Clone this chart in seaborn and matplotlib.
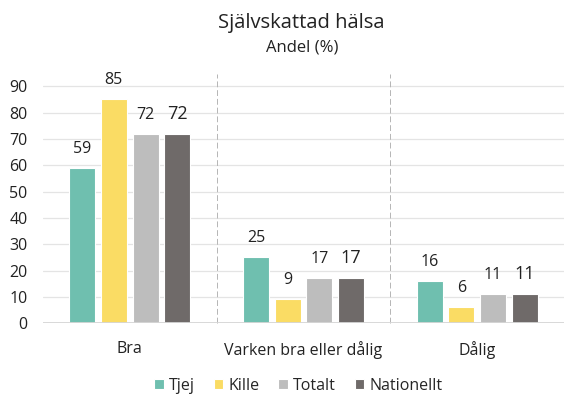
import matplotlib
matplotlib.use("Agg")
import matplotlib.pyplot as plt
import seaborn as sns
import pandas as pd

categories = ["Bra", "Varken bra eller dålig", "Dålig"]
groups = ["Tjej", "Kille", "Totalt", "Nationellt"]
tjej = [59, 25, 16]
kille = [85, 9, 6]
totalt = [72, 17, 11]
nationellt = [72, 17, 11]
yticks = [0, 10, 20, 30, 40, 50, 60, 70, 80, 90]

colors = ["#6FBFAF", "#FADC64", "#BDBDBD", "#6F6A69"]

sns.set_theme(style="white")
plt.rcParams["font.family"] = ["Open Sans", "DejaVu Sans"]

rows = []
for g, vals in zip(groups, [tjej, kille, totalt, nationellt]):
    for c, v in zip(categories, vals):
        rows.append({"Kategori": c, "Grupp": g, "Andel": v})
df = pd.DataFrame(rows)

fig = plt.figure(figsize=(5.64, 3.99), dpi=100)
ax = fig.add_axes([0.076, 0.19, 0.924, 0.607])

sns.barplot(data=df, x="Kategori", y="Andel", hue="Grupp", order=categories,
            hue_order=groups, palette=colors, saturation=1, width=0.73,
            gap=0.18, edgecolor="white", linewidth=0.8, ax=ax, legend=True,
            zorder=3)

ax.set_ylim(0, 92)
ax.set_xlim(-0.5, 2.5)
ax.set_yticks(yticks)
ax.set_yticklabels([str(t) for t in yticks], fontsize=11.5, color="#222222")
ax.tick_params(axis="y", length=0, pad=11)
ax.tick_params(axis="x", length=0, pad=13, labelsize=11.5, colors="#222222")
ax.set_xlabel("")
ax.set_ylabel("")
for y in yticks:
    ax.axhline(y, color="#E4E4E4", lw=0.9, zorder=0)
ax.axhline(0, color="#D6D6D6", lw=1.3, zorder=4)
for s in ax.spines.values():
    s.set_visible(False)

for xsep in [0.5, 1.5]:
    ax.axvline(xsep, ymin=0, ymax=1.03, color="#B5B5B5", lw=0.7,
               ls=(0, (6, 3)), zorder=1, clip_on=False)

for i, cont in enumerate(ax.containers):
    size = 13 if groups[i] == "Nationellt" else 11.5
    ax.bar_label(cont, labels=[f"{v:.0f}" for v in cont.datavalues],
                 padding=8, fontsize=size, color="#222222")

ax.legend(handles=ax.get_legend().legend_handles, labels=groups,
          loc="upper center", bbox_to_anchor=(0.49, -0.165), ncol=4,
          frameon=False, fontsize=11.5, handlelength=0.6, handleheight=0.6,
          handletextpad=0.3, columnspacing=1.2)

fig.text(0.535, 0.942, "Självskattad hälsa", ha="center", va="center",
         fontsize=14.5, color="#222222")
fig.text(0.535, 0.882, "Andel (%)", ha="center", va="center",
         fontsize=12, color="#222222")

fig.savefig("out.png", dpi=100)
